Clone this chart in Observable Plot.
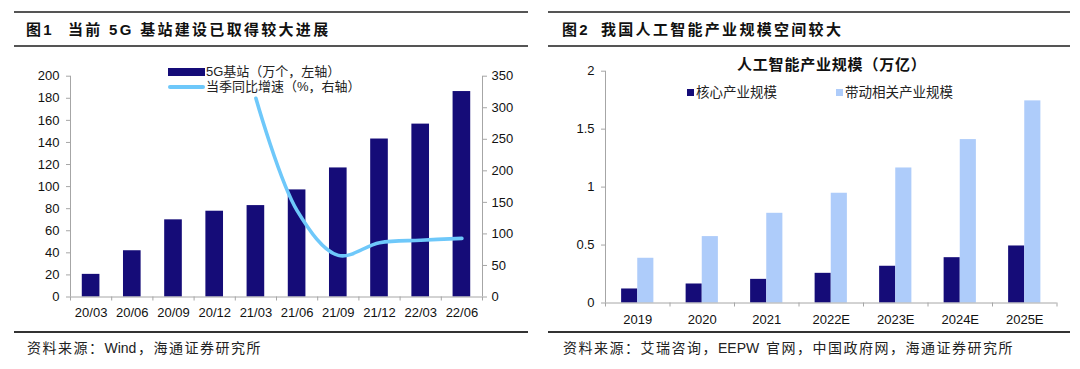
<!DOCTYPE html>
<html>
<head>
<meta charset="utf-8">
<script src="https://cdn.jsdelivr.net/npm/d3@7"></script>
<script src="https://cdn.jsdelivr.net/npm/@observablehq/plot@0.6"></script>
<style>
  html, body { margin: 0; padding: 0; background: #fff; }
  #page { position: relative; width: 1080px; height: 369px; overflow: hidden; background: #fff;
          font-family: "Liberation Sans", Arial, "Noto Sans CJK SC", sans-serif; color: #111; }
  .abs { position: absolute; white-space: nowrap; }
  .rule { position: absolute; }
  .title { font-size: 15px; font-weight: bold; line-height: 20px; letter-spacing: 2.3px; }
  .legend { font-size: 13px; line-height: 16px; color: #222; }
  .source { font-size: 14px; line-height: 16px; color: #222; letter-spacing: 1.5px; }
  .source .lat { letter-spacing: 0; margin-right: 1.5px; }
  svg { overflow: visible; }
</style>
</head>
<body>
<div id="page">
  <div class="rule" style="left:14px;top:11px;width:514px;height:1.5px;background:#555"></div>
  <div class="rule" style="left:14px;top:45px;width:514px;height:1.5px;background:#555"></div>
  <div class="rule" style="left:548px;top:11px;width:522px;height:1.5px;background:#555"></div>
  <div class="rule" style="left:548px;top:45px;width:522px;height:1.5px;background:#555"></div>

  <div class="abs title" style="left:26px;top:20px;">图1</div>
  <div class="abs title" style="left:68px;top:20px;">当前 5G 基站建设已取得较大进展</div>
  <div class="abs title" style="left:562px;top:20px;">图2</div>
  <div class="abs title" style="left:601px;top:20px;">我国人工智能产业规模空间较大</div>

  <div id="left" class="abs" style="left:0px;top:50px;"></div>
  <div id="right" class="abs" style="left:540px;top:50px;"></div>

  <div class="abs" style="left:737px;top:55px;font-size:15px;line-height:20px;font-weight:bold;letter-spacing:0.8px;color:#111;">人工智能产业规模（万亿）</div>

  <div class="abs" style="left:168px;top:68px;width:37px;height:7.5px;background:#150c78"></div>
  <div class="abs legend" style="left:206px;top:64px;">5G基站（万个，左轴）</div>
  <div class="abs" style="left:168px;top:85px;width:37px;height:3.6px;border-radius:2px;background:#6ec8fa"></div>
  <div class="abs legend" style="left:206px;top:79px;">当季同比增速（%，右轴）</div>

  <div class="abs" style="left:687px;top:89px;width:7px;height:7px;background:#150c78"></div>
  <div class="abs legend" style="left:696px;top:85px;font-size:13.5px;">核心产业规模</div>
  <div class="abs" style="left:836px;top:89px;width:7px;height:7px;background:#aeccfa"></div>
  <div class="abs legend" style="left:845px;top:85px;font-size:13.5px;">带动相关产业规模</div>

  <div class="rule" style="left:14px;top:331px;width:514px;height:2px;background:#333"></div>
  <div class="rule" style="left:548px;top:331px;width:522px;height:2px;background:#333"></div>
  <div class="abs source" style="left:27px;top:340px;">资料来源：<span class="lat">Wind</span>，海通证券研究所</div>
  <div class="abs source" style="left:563px;top:340px;">资料来源：艾瑞咨询，<span class="lat">EEPW</span> 官网，中国政府网，海通证券研究所</div>
</div>
<script>
// ---- Figure 1 data ----
const quarters = ["20/03","20/06","20/09","20/12","21/03","21/06","21/09","21/12","22/03","22/06"];
const stations = [20.5, 41.9, 69.9, 77.7, 82.8, 97, 116.9, 143.1, 156.6, 186.1];
const growthQuarters = ["21/03","21/06","21/09","21/12","22/03","22/06"];
const growth = [315, 137, 66, 86, 90, 93];
const leftTicks = [0,20,40,60,80,100,120,140,160,180,200];
const rightTicks = [0,50,100,150,200,250,300,350];

// ---- Figure 2 data ----
const years = ["2019","2020","2021","2022E","2023E","2024E","2025E"];
const core = [0.121, 0.164, 0.204, 0.256, 0.317, 0.391, 0.492];
const related = [0.386, 0.573, 0.774, 0.947, 1.165, 1.41, 1.744];
const yTicks2 = [0, 0.5, 1, 1.5, 2];

const navy = "#150c78";
const sky = "#6ec8fa";
const light = "#aeccfa";
const axisGray = "#a6a6a6";

const baseStyle = {fontFamily: "Liberation Sans, Arial, sans-serif", fontSize: "13px", color: "#111", background: "transparent", overflow: "visible"};

// Left chart
const n1 = quarters.length;
const barData1 = quarters.map((q, i) => ({i, q, v: stations[i]}));
const lineData1 = growthQuarters.map((q, k) => ({i: quarters.indexOf(q), v: growth[k]}));
const leftMax = 200, rightMax = 350;
const toLeft = v => v * leftMax / rightMax;
const bounds1 = d3.range(n1 + 1).map(i => i - 0.5);

const chart1 = Plot.plot({
  width: 540, height: 280,
  marginTop: 25.7, marginBottom: 33.5, marginLeft: 70, marginRight: 58,
  x: {type: "linear", domain: [-0.5, n1 - 0.5]},
  y: {domain: [0, leftMax]},
  style: baseStyle,
  marks: [
    Plot.rectY(barData1, {x1: d => d.i - 0.214, x2: d => d.i + 0.214, y: "v", fill: navy}),
    Plot.line(lineData1, {x: "i", y: d => toLeft(d.v), stroke: sky, strokeWidth: 3.6, curve: "catmull-rom", strokeLinecap: "round", strokeLinejoin: "round"}),
    Plot.ruleX([-0.5], {y1: 0, y2: leftMax, stroke: axisGray}),
    Plot.ruleX([n1 - 0.5], {y1: 0, y2: leftMax, stroke: axisGray}),
    Plot.ruleY([0], {x1: -0.5, x2: n1 - 0.5, stroke: axisGray}),
    Plot.axisY({anchor: "left", ticks: leftTicks, tickSize: 4, tickPadding: 7, stroke: axisGray, label: null}),
    Plot.axisY({anchor: "right", ticks: rightTicks.map(toLeft), tickFormat: v => String(Math.round(v * rightMax / leftMax)), tickSize: 4, tickPadding: 5, stroke: axisGray, label: null}),
    Plot.axisX({ticks: bounds1, tickSize: 4, tickFormat: () => "", stroke: axisGray, label: null}),
    Plot.axisX({ticks: d3.range(n1), tickFormat: i => quarters[i], tickSize: 0, tickPadding: 11, label: null})
  ]
});
document.getElementById("left").appendChild(chart1);

// Right chart
const n2 = years.length;
const data2 = years.map((y, i) => ({i, y, core: core[i], related: related[i]}));
const bounds2 = d3.range(n2 + 1).map(i => i - 0.5);

const chart2 = Plot.plot({
  width: 540, height: 290,
  marginTop: 20.7, marginBottom: 37.5, marginLeft: 65, marginRight: 23.5,
  x: {type: "linear", domain: [-0.5, n2 - 0.5]},
  y: {domain: [0, 2]},
  style: baseStyle,
  marks: [
    Plot.rectY(data2, {x1: d => d.i - 0.25, x2: d => d.i, y: "core", fill: navy}),
    Plot.rectY(data2, {x1: d => d.i, x2: d => d.i + 0.25, y: "related", fill: light}),
    Plot.ruleX([-0.5], {y1: 0, y2: 2, stroke: axisGray}),
    Plot.ruleY([0], {x1: -0.5, x2: n2 - 0.5, stroke: axisGray}),
    Plot.axisY({anchor: "left", ticks: yTicks2, tickFormat: d => String(d), tickSize: 4, tickPadding: 7, stroke: axisGray, label: null}),
    Plot.axisX({ticks: bounds2, tickSize: 4, tickFormat: () => "", stroke: axisGray, label: null}),
    Plot.axisX({ticks: d3.range(n2), tickFormat: i => years[i], tickSize: 0, tickPadding: 12, label: null})
  ]
});
document.getElementById("right").appendChild(chart2);
</script>
</body>
</html>
